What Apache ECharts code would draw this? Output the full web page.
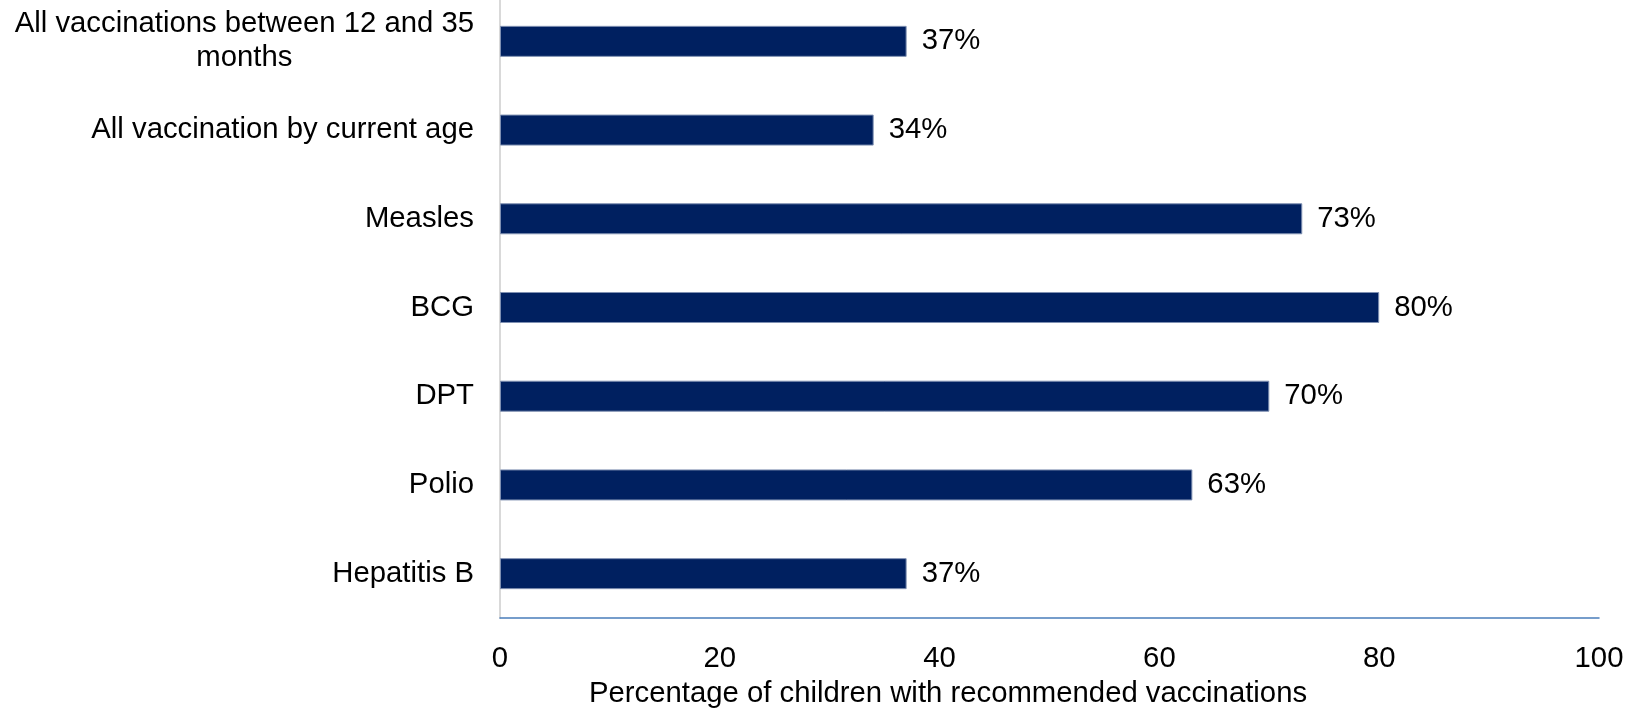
<!DOCTYPE html>
<html>
<head>
<meta charset="utf-8">
<script src="https://cdn.jsdelivr.net/npm/echarts@6/dist/echarts.min.js"></script>
<style>
  html, body { margin: 0; padding: 0; background: #ffffff; }
  #chart { width: 1640px; height: 708px; }
</style>
</head>
<body>
<div id="chart"></div>
<script>
// Vaccination coverage, listed bottom to top as drawn on the category axis
const categories = [
  'Hepatitis B',
  'Polio',
  'DPT',
  'BCG',
  'Measles',
  'All vaccination by current age',
  'All vaccinations between 12 and 35 months'
];
const coverage = [37, 63, 70, 80, 73, 34, 37];
const xTicks = { min: 0, max: 100, interval: 20 };
const xTitle = 'Percentage of children with recommended vaccinations';

const FONT = '"Liberation Sans", Arial, sans-serif';
const SIZE = 29.3;

const chart = echarts.init(document.getElementById('chart'), null, { renderer: 'canvas' });

chart.setOption({
  animation: false,
  backgroundColor: '#ffffff',
  grid: {
    left: 500, right: 41, top: -3, bottom: 90,
    containLabel: false,
    outerBoundsMode: 'none'
  },
  xAxis: {
    type: 'value',
    min: xTicks.min,
    max: xTicks.max,
    interval: xTicks.interval,
    name: xTitle,
    nameLocation: 'middle',
    nameGap: 61,
    nameTextStyle: {
      fontFamily: FONT, fontSize: SIZE, color: '#000000',
      padding: [0, 203, 0, 0]
    },
    axisLine: { show: true, lineStyle: { color: '#4a7ebb', width: 1.5 } },
    axisTick: { show: false },
    splitLine: { show: false },
    axisLabel: { fontFamily: FONT, fontSize: SIZE, color: '#000000', margin: 26 }
  },
  yAxis: {
    type: 'category',
    data: categories,
    axisLine: { show: true, lineStyle: { color: '#d9d9d9', width: 2 } },
    axisTick: { show: false },
    splitLine: { show: false },
    axisLabel: {
      fontFamily: FONT, fontSize: SIZE, color: '#000000', margin: 26,
      lineHeight: 34,
      formatter: function (v) {
        if (v === 'All vaccinations between 12 and 35 months') {
          return '{c|All vaccinations between 12 and 35}\n{c|months}';
        }
        return v;
      },
      rich: {
        c: { fontFamily: FONT, fontSize: SIZE, color: '#000000', align: 'center', lineHeight: 34 }
      }
    }
  },
  series: [{
    type: 'bar',
    data: coverage,
    barWidth: 31,
    itemStyle: { color: '#002060', borderColor: '#7f90b2', borderWidth: 1 },
    label: {
      show: true,
      position: 'right',
      distance: 15,
      fontFamily: FONT, fontSize: SIZE, color: '#000000',
      formatter: function (p) { return p.value + '%'; }
    }
  }]
});
</script>
</body>
</html>
